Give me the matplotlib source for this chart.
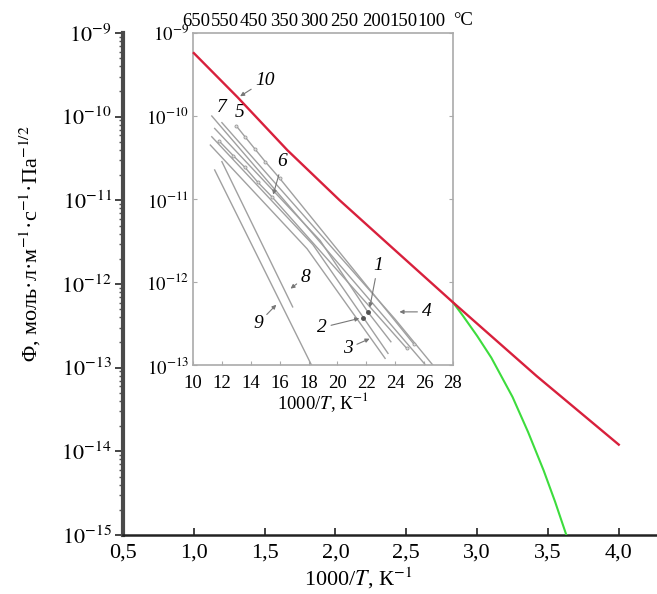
import matplotlib
matplotlib.use("Agg")
import matplotlib.pyplot as plt
from matplotlib.ticker import FixedLocator, FixedFormatter, LogLocator, NullFormatter

plt.rcParams['font.family'] = ['Liberation Serif', 'DejaVu Serif']
plt.rcParams['mathtext.fontset'] = 'stix'

# ---------------- data (outer chart) ----------------
red_x = [1.0, 1.31, 1.66, 2.03, 2.39, 2.83, 3.42, 4.0]
red_logphi = [-9.24, -9.77, -10.40, -11.0, -11.55, -12.22, -13.1, -13.92]
green_x = [2.83, 2.9, 3.0, 3.1, 3.25, 3.36, 3.47, 3.55, 3.63]
green_logphi = [-12.22, -12.38, -12.62, -12.88, -13.35, -13.77, -14.23, -14.6, -15.0]

x_ticks = [0.5, 1.0, 1.5, 2.0, 2.5, 3.0, 3.5, 4.0]
x_tick_labels = ["0,5", "1,0", "1,5", "2,0", "2,5", "3,0", "3,5", "4,0"]
y_decades = [-15, -14, -13, -12, -11, -10, -9]

# ---------------- data (inset, scanned literature chart) ----------------
line1_x = [11.5, 18.8, 22.1, 23.7]
line1_log = [-10.15, -11.5, -12.36, -12.72]
line2_x = [11.3, 18.3, 21.8, 23.5]
line2_log = [-10.25, -11.55, -12.43, -12.86]
line3_x = [11.2, 17.9, 23.3]
line3_log = [-10.35, -11.6, -12.92]
line4_x = [12.0, 24.0, 26.6]
line4_log = [-10.08, -12.45, -13.0]
line5_x = [13.0, 13.6, 14.3, 15.0, 16.0, 25.3]
line5_log = [-10.12, -10.25, -10.4, -10.55, -10.75, -12.75]
line6_x = [11.8, 12.8, 13.6, 14.5, 15.5, 24.8]
line6_log = [-10.3, -10.48, -10.62, -10.8, -10.98, -12.8]
line7_x = [11.3, 26.1]
line7_log = [-10.0, -13.0]
line8_x = [12.0, 16.9]
line8_log = [-10.55, -12.3]
line9_x = [11.5, 18.2]
line9_log = [-10.65, -13.0]

inset_x_ticks = [10, 12, 14, 16, 18, 20, 22, 24, 26, 28]
inset_y_decades = [-13, -12, -11, -10, -9]
celsius_labels = ["650", "550", "450", "350", "300", "250", "200", "150", "100"]
celsius_label_pos = [10.2, 12.2, 14.2, 16.3, 18.4, 20.5, 22.7, 24.6, 26.5]

# ---------------- figure ----------------
W, H = 657, 594
fig = plt.figure(figsize=(W / 100, H / 100), dpi=100)
ax = fig.add_axes([123 / W, 1 - 535 / H, (W - 123) / W, (535 - 33) / H])

red_color = '#d8203c'
green_color = '#3ddc3d'
ax.plot(red_x, [10 ** v for v in red_logphi], color=red_color, lw=1.7, zorder=5)
ax.plot(green_x, [10 ** v for v in green_logphi], color=green_color, lw=1.5, zorder=4)

ax.set_yscale('log')
ax.set_ylim(10.0 ** y_decades[0], 10.0 ** y_decades[-1])
ax.set_xlim(0.5, 4.27)
ax.xaxis.set_major_locator(FixedLocator(x_ticks))
ax.xaxis.set_major_formatter(FixedFormatter(x_tick_labels))
ax.yaxis.set_major_locator(FixedLocator([10.0 ** d for d in y_decades]))
ax.yaxis.set_major_formatter(FixedFormatter([r"$10^{%d}$" % d for d in y_decades]))
ax.yaxis.set_minor_locator(LogLocator(base=10, subs=range(2, 10), numticks=20))
ax.yaxis.set_minor_formatter(NullFormatter())

for s in ('top', 'right'):
    ax.spines[s].set_visible(False)
ax.spines['left'].set_linewidth(3)
ax.spines['left'].set_color('#4a4a4a')
ax.spines['bottom'].set_linewidth(1.8)
ax.spines['bottom'].set_color('#222222')
ax.tick_params(axis='x', direction='in', length=5, width=1.2, labelsize=16, pad=6, colors='#222222', labelcolor='black')
ax.tick_params(axis='y', which='major', direction='out', length=6, width=1.4, labelsize=16, pad=2, colors='#444444', labelcolor='black')
ax.tick_params(axis='y', which='minor', direction='out', length=3, width=1.0, colors='#555555')

ax.set_xlabel(r"1000/$T$, К$^{-1}$", fontsize=16)
ax.xaxis.set_label_coords(0.44, -0.06)
ax.set_ylabel(r"Φ, моль·л·м$^{-1}$·с$^{-1}$·Па$^{-1/2}$", fontsize=16)
ax.yaxis.set_label_coords(-0.15, 0.58)
ax.patch.set_alpha(0)
ax.set_zorder(3)

# ---------------- inset ----------------
ax_in = fig.add_axes([193 / W, 1 - 365 / H, 260 / W, 332 / H])
ax_in.set_zorder(1)
gray = '#a0a0a0'
for lx, ll in [(line1_x, line1_log), (line2_x, line2_log), (line3_x, line3_log),
               (line4_x, line4_log), (line7_x, line7_log), (line8_x, line8_log),
               (line9_x, line9_log)]:
    ax_in.plot(lx, [10 ** v for v in ll], color=gray, lw=1.0)
for lx, ll in [(line5_x, line5_log), (line6_x, line6_log)]:
    ax_in.plot(lx, [10 ** v for v in ll], color=gray, lw=1.0, marker='o', ms=2.2,
               mfc='#dddddd', mec='#999999', mew=0.6)
ax_in.plot([line1_x[2]], [10 ** line1_log[2]], 'o', color='#555555', ms=2.5)
ax_in.plot([line2_x[2]], [10 ** line2_log[2]], 'o', color='#555555', ms=2.5)

ax_in.set_yscale('log')
ax_in.set_xlim(10, 28)
ax_in.set_ylim(10.0 ** inset_y_decades[0], 10.0 ** inset_y_decades[-1])
ax_in.xaxis.set_major_locator(FixedLocator(inset_x_ticks))
ax_in.yaxis.set_major_locator(FixedLocator([10.0 ** d for d in inset_y_decades]))
ax_in.yaxis.set_major_formatter(FixedFormatter([r"$10^{%d}$" % d for d in inset_y_decades]))
ax_in.yaxis.set_minor_formatter(NullFormatter())
ax_in.tick_params(axis='y', which='minor', length=0)
ax_in.tick_params(direction='in', length=3, width=0.8, colors='#aaaaaa', labelcolor='black',
                  labelsize=13.5, pad=3, right=True)
ax_in.tick_params(axis='x', pad=7)
for s in ax_in.spines.values():
    s.set_color('#aaaaaa')
    s.set_linewidth(1.2)
ax_in.set_xlabel(r"1000/$T$, К$^{-1}$", fontsize=13.5, labelpad=-1)

ax_top = ax_in.twiny()
ax_top.set_xlim(10, 28)
ax_top.xaxis.set_major_locator(FixedLocator(celsius_label_pos))
ax_top.xaxis.set_major_formatter(FixedFormatter(celsius_labels))
ax_top.tick_params(axis='x', length=0, labelsize=13.5, pad=2)
for s in ax_top.spines.values():
    s.set_visible(False)
ax_in.annotate("°C", xy=(28.7, 1.0), xycoords=('data', 'axes fraction'),
               xytext=(0, 3), textcoords='offset points', ha='center', va='bottom',
               fontsize=13.5, annotation_clip=False)

# curve labels in the inset
lab_kw = dict(fontsize=14, style='italic', ha='center', va='center',
              bbox=dict(boxstyle='square,pad=0.1', fc='white', ec='none'))
arrow_kw = dict(arrowstyle='-|>', color='#777777', lw=0.8, mutation_scale=6)
labels = [
    ("10", 15.0, -9.57, 13.1, -9.78),
    ("7", 12.0, -9.9, None, None),
    ("5", 13.2, -9.96, None, None),
    ("6", 16.2, -10.55, 15.5, -10.98),
    ("1", 22.8, -11.8, 22.2, -12.34),
    ("2", 18.9, -12.55, 21.7, -12.43),
    ("3", 20.7, -12.8, 22.4, -12.67),
    ("4", 26.2, -12.36, 24.1, -12.36),
    ("8", 17.8, -11.94, 16.6, -12.1),
    ("9", 14.5, -12.5, 15.9, -12.25),
]
for txt, tx, ty, px, py in labels:
    if px is None:
        ax_in.text(tx, 10 ** ty, txt, zorder=6, **lab_kw)
    else:
        ax_in.annotate(txt, xy=(px, 10 ** py), xytext=(tx, 10 ** ty),
                       arrowprops=arrow_kw, zorder=6, **lab_kw)

fig.savefig("out.png", dpi=100)
